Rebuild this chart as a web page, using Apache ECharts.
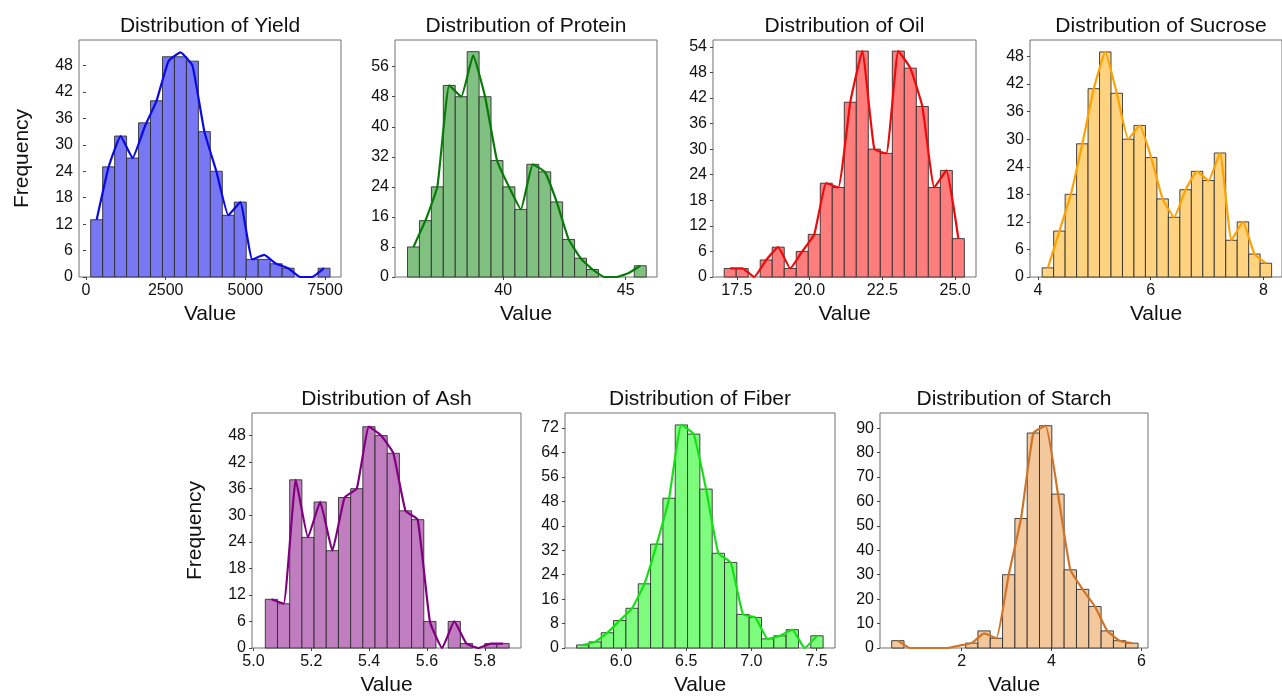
<!DOCTYPE html>
<html>
<head>
<meta charset="utf-8">
<script src="https://cdn.jsdelivr.net/npm/echarts@6/dist/echarts.min.js"></script>
<style>
  html, body { margin: 0; padding: 0; background: #ffffff; overflow: hidden; }
  #chart { width: 1282px; height: 697px; }
</style>
</head>
<body>
<div id="chart"></div>
<script>
// Histogram counts per variable (equal-width bins spanning each *Range)
const yieldCounts   = [13, 25, 32, 27, 35, 40, 50, 50, 49, 33, 24, 14, 17, 4, 4, 3, 2, 0, 0, 2];
const proteinCounts = [8, 15, 24, 51, 48, 60, 48, 31, 24, 18, 30, 28, 20, 10, 5, 2, 0, 0, 0, 3];
const oilCounts     = [2, 2, 0, 4, 7, 2, 6, 10, 22, 21, 41, 53, 30, 29, 53, 49, 40, 21, 25, 9];
const sucroseCounts = [2, 10, 18, 29, 41, 49, 40, 30, 33, 26, 17, 13, 19, 23, 21, 27, 8, 12, 5, 3];
const ashCounts     = [11, 10, 38, 25, 33, 22, 34, 36, 50, 48, 44, 31, 29, 6, 0, 6, 1, 0, 1, 1];
const fiberCounts   = [1, 2, 5, 9, 13, 21, 34, 49, 73, 70, 52, 31, 28, 11, 10, 3, 4, 6, 0, 4];
const starchCounts  = [3, 0, 0, 0, 0, 0, 2, 7, 4, 30, 53, 88, 91, 63, 32, 24, 17, 7, 3, 2];

// Density curve heights at each bin centre (in count units)
const yieldKde   = [13, 25, 32, 27, 34, 40, 49, 51, 48, 33, 24, 14, 17, 4, 5, 3, 2, 0, 0, 2];
const proteinKde = [8, 15, 24, 51, 48, 59, 48, 31, 24, 18, 30, 28, 20, 10, 5, 2, 0, 0, 1, 3];
const oilKde     = [2, 2, 0, 4, 7, 2, 6, 10, 22, 21, 41, 53, 30, 29, 53, 49, 40, 21, 25, 9];
const sucroseKde = [2, 10, 18, 29, 41, 49, 40, 30, 33, 26, 17, 13, 19, 23, 21, 27, 8, 12, 5, 3];
const ashKde     = [11, 10, 38, 25, 33, 22, 34, 36, 50, 48, 44, 31, 29, 6, 0, 6, 1, 0, 1, 1];
const fiberKde   = [1, 2, 5, 9, 13, 21, 34, 49, 73, 70, 52, 31, 28, 11, 10, 3, 4, 6, 0, 4];
const starchKde  = [3, 0, 0, 0, 0, 1, 2, 6, 4, 30, 53, 88, 91, 63, 32, 24, 17, 7, 3, 2];

// Binned value ranges [first edge, last edge]
const yieldRange   = [146.5, 7656];
const proteinRange = [36.09, 45.84];
const oilRange     = [17.065, 25.32];
const sucroseRange = [4.074, 8.146];
const ashRange     = [5.041, 5.884];
const fiberRange   = [5.66, 7.55];
const starchRange  = [0.444, 5.926];

// Axis tick values
const yieldXTicks   = [0, 2500, 5000, 7500];
const proteinXTicks = [40, 45];
const oilXTicks     = [17.5, 20.0, 22.5, 25.0];
const sucroseXTicks = [4, 6, 8];
const ashXTicks     = [5.0, 5.2, 5.4, 5.6, 5.8];
const fiberXTicks   = [6.0, 6.5, 7.0, 7.5];
const starchXTicks  = [2, 4, 6];

const yieldYTicks   = [0, 6, 12, 18, 24, 30, 36, 42, 48];
const proteinYTicks = [0, 8, 16, 24, 32, 40, 48, 56];
const oilYTicks     = [0, 6, 12, 18, 24, 30, 36, 42, 48, 54];
const sucroseYTicks = [0, 6, 12, 18, 24, 30, 36, 42, 48];
const ashYTicks     = [0, 6, 12, 18, 24, 30, 36, 42, 48];
const fiberYTicks   = [0, 8, 16, 24, 32, 40, 48, 56, 64, 72];
const starchYTicks  = [0, 10, 20, 30, 40, 50, 60, 70, 80, 90];

const FONT = 'Liberation Sans, Arial, Helvetica, sans-serif';

const panels = [
  { name: 'Yield',   counts: yieldCounts,   kde: yieldKde,   range: yieldRange,
    xTicks: yieldXTicks,   xDec: 0, yTicks: yieldYTicks,
    fill: '#7878f4', line: '#0a0ae6',
    box: { left: 79, top: 40, width: 262, height: 237 }, xMin: -220, xMax: 8000, yMax: 53.8, yName: true },
  { name: 'Protein', counts: proteinCounts, kde: proteinKde, range: proteinRange,
    xTicks: proteinXTicks, xDec: 0, yTicks: proteinYTicks,
    fill: '#80c080', line: '#087a08',
    box: { left: 395, top: 40, width: 262, height: 237 }, xMin: 35.58, xMax: 46.28, yMax: 63.1, yName: false },
  { name: 'Oil',     counts: oilCounts,     kde: oilKde,     range: oilRange,
    xTicks: oilXTicks,     xDec: 1, yTicks: oilYTicks,
    fill: '#ff7d7d', line: '#ee0a0a',
    box: { left: 713, top: 40, width: 263, height: 237 }, xMin: 16.68, xMax: 25.72, yMax: 55.6, yName: false },
  { name: 'Sucrose', counts: sucroseCounts, kde: sucroseKde, range: sucroseRange,
    xTicks: sucroseXTicks, xDec: 0, yTicks: sucroseYTicks,
    fill: '#ffd37f', line: '#ffa200',
    box: { left: 1030, top: 40, width: 262, height: 237 }, xMin: 3.858, xMax: 8.33, yMax: 51.6, yName: false },
  { name: 'Ash',     counts: ashCounts,     kde: ashKde,     range: ashRange,
    xTicks: ashXTicks,     xDec: 1, yTicks: ashYTicks,
    fill: '#c07ec0', line: '#800080',
    box: { left: 252, top: 413, width: 269, height: 238 }, xMin: 4.995, xMax: 5.925, yMax: 53.1, yName: true },
  { name: 'Fiber',   counts: fiberCounts,   kde: fiberKde,   range: fiberRange,
    xTicks: fiberXTicks,   xDec: 1, yTicks: fiberYTicks,
    fill: '#7dfc7d', line: '#14e014',
    box: { left: 565, top: 413, width: 270, height: 238 }, xMin: 5.571, xMax: 7.641, yMax: 76.9, yName: false },
  { name: 'Starch',  counts: starchCounts,  kde: starchKde,  range: starchRange,
    xTicks: starchXTicks,  xDec: 0, yTicks: starchYTicks,
    fill: '#f3c89c', line: '#cf7428',
    box: { left: 880, top: 413, width: 268, height: 237 }, xMin: 0.184, xMax: 6.147, yMax: 96.2, yName: false }
];

const option = {
  backgroundColor: '#ffffff',
  animation: false,
  title: [], grid: [], xAxis: [], yAxis: [], series: []
};

panels.forEach(function (p, i) {
  const n = p.counts.length;
  const w = (p.range[1] - p.range[0]) / n;
  const bins = p.counts.map(function (c, k) {
    return [p.range[0] + k * w, p.range[0] + (k + 1) * w, c];
  });
  const curve = p.kde.map(function (v, k) {
    return [p.range[0] + (k + 0.5) * w, v];
  });

  option.title.push({
    text: 'Distribution of ' + p.name,
    left: p.box.left + p.box.width / 2,
    top: p.box.top - 24,
    textAlign: 'center',
    padding: 0,
    textStyle: { fontFamily: FONT, fontSize: 21, fontWeight: 'normal', color: '#111' }
  });

  option.grid.push({
    left: p.box.left, top: p.box.top, width: p.box.width, height: p.box.height,
    show: true, borderColor: '#707070', borderWidth: 1, backgroundColor: 'transparent',
    containLabel: false
  });

  option.xAxis.push({
    type: 'value', gridIndex: i, min: p.xMin, max: p.xMax,
    name: 'Value', nameLocation: 'middle', nameGap: 27,
    nameTextStyle: { fontFamily: FONT, fontSize: 21, color: '#111' },
    axisLine: { show: false },
    splitLine: { show: false },
    axisTick: { show: true, inside: false, length: 3, customValues: p.xTicks,
                lineStyle: { color: '#444', width: 1 } },
    axisLabel: { customValues: p.xTicks, margin: 6, fontFamily: FONT, fontSize: 16, color: '#111',
                 formatter: function (v) { return v.toFixed(p.xDec); } }
  });

  option.yAxis.push({
    type: 'value', gridIndex: i, min: 0, max: p.yMax,
    name: p.yName ? 'Frequency' : '', nameLocation: 'middle', nameGap: 46,
    nameTextStyle: { fontFamily: FONT, fontSize: 21, color: '#111' },
    axisLine: { show: false },
    splitLine: { show: false },
    axisTick: { show: true, inside: false, length: 3, customValues: p.yTicks,
                lineStyle: { color: '#444', width: 1 } },
    axisLabel: { customValues: p.yTicks, margin: 6, fontFamily: FONT, fontSize: 16, color: '#111',
                 formatter: function (v) { return String(Math.round(v)); } }
  });

  option.series.push({
    type: 'custom', xAxisIndex: i, yAxisIndex: i, silent: true,
    data: bins,
    encode: { x: [0, 1], y: 2 },
    renderItem: function (params, api) {
      const c = api.value(2);
      if (!c) return null;
      const a = api.coord([api.value(0), 0]);
      const b = api.coord([api.value(1), c]);
      return {
        type: 'rect',
        shape: { x: a[0], y: b[1], width: b[0] - a[0], height: a[1] - b[1] },
        style: { fill: p.fill, stroke: 'rgba(40,40,40,0.85)', lineWidth: 1 }
      };
    }
  });

  option.series.push({
    type: 'line', xAxisIndex: i, yAxisIndex: i, silent: true,
    data: curve, smooth: 0.12, showSymbol: false, symbol: 'none',
    lineStyle: { color: p.line, width: 2.2, join: 'round' },
    z: 3
  });
});

const chart = echarts.init(document.getElementById('chart'), null, { renderer: 'canvas' });
chart.setOption(option);
</script>
</body>
</html>
